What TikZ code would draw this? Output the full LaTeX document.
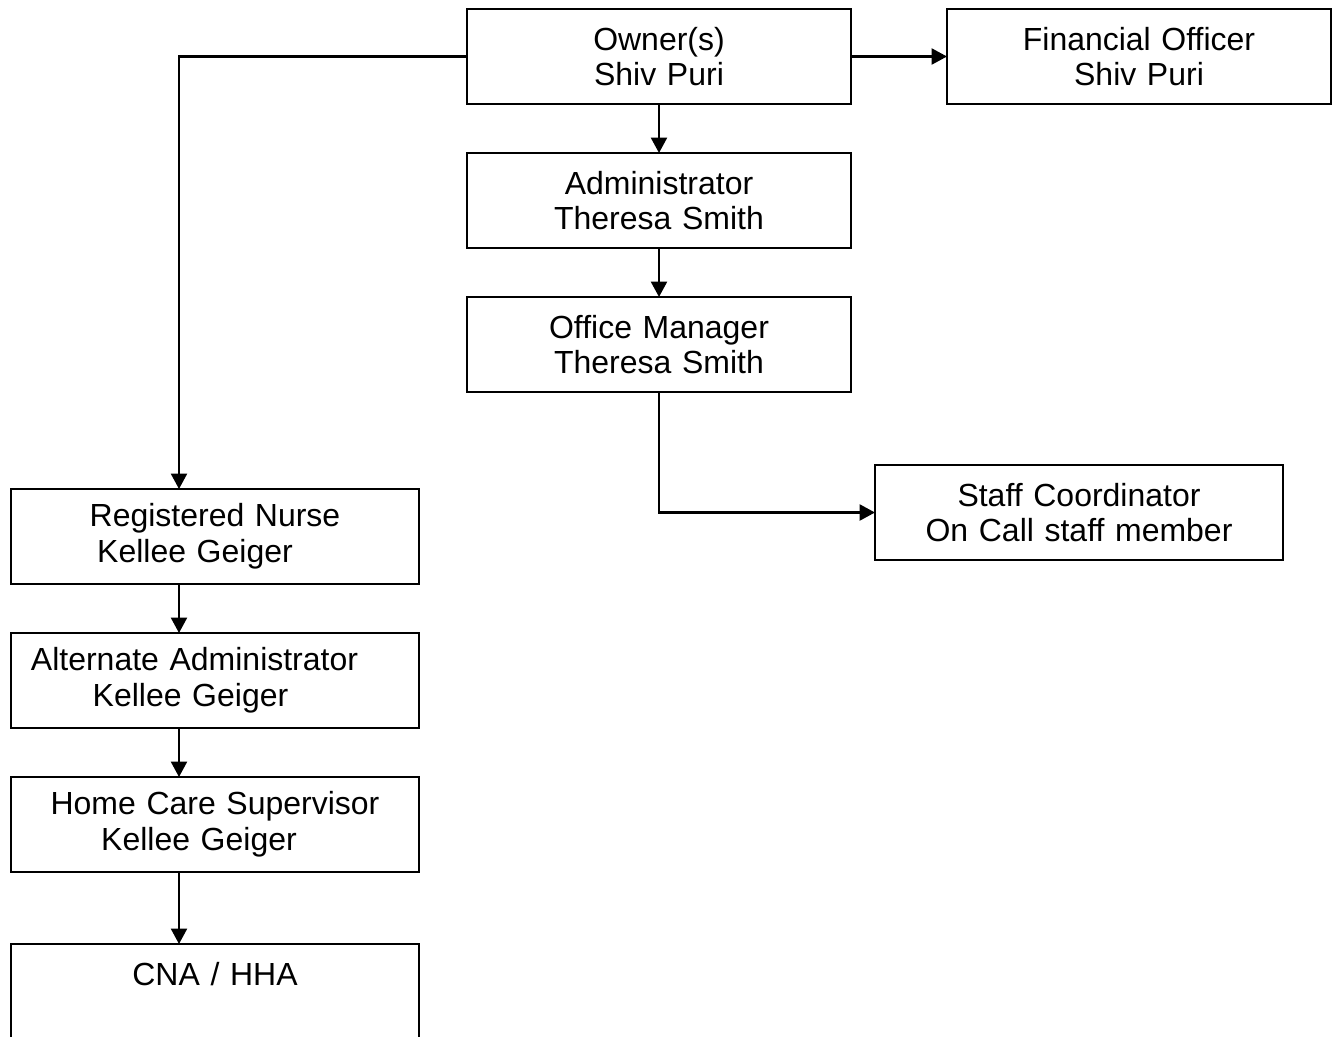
\documentclass[tikz,border=0pt]{standalone}
\usepackage{fontspec}
\setmainfont{Liberation Sans}
\usetikzlibrary{arrows.meta, positioning}

\begin{document}
\begin{tikzpicture}[
    orgbox/.style={
        draw,
        line width=1.1pt,
        minimum height=1.9cm,
        inner sep=0pt,
        outer sep=0pt,
        text width=7.68cm,
        align=center,
        font=\fontsize{18.2}{20.4}\selectfont,
    },
    widebox/.style={
        orgbox,
        text width=8.16cm,
    },
    link/.style={
        line width=1.5pt,
        -{Triangle[length=3.1mm, width=3.2mm]},
    }
]
    \useasboundingbox (0,0) rectangle (26.76,-20.72);

    % Office side
    \node[orgbox] (owner) at (13.18,-1.13) {Owner(s)\\Shiv Puri};
    \node[orgbox, right=1.92cm of owner] (finance) {Financial Officer\\Shiv Puri};
    \node[orgbox, below=0.98cm of owner] (admin) {Administrator\\Theresa Smith};
    \node[orgbox, below=0.98cm of admin] (office) {Office Manager\\Theresa Smith};
    \node[widebox] (staff) at (21.58,-10.25) {Staff Coordinator\\On Call staff member};

    % Care side
    \node[widebox] (nurse) at (4.30,-10.73) {Registered Nurse\\\hspace*{-0.8cm}Kellee Geiger};
    \node[widebox, below=0.98cm of nurse] (altadmin) {\hspace*{-0.82cm}Alternate Administrator\\\hspace*{-0.98cm}Kellee Geiger};
    \node[widebox, below=0.98cm of altadmin] (supervisor) {Home Care Supervisor\\\hspace*{-0.64cm}Kellee Geiger};
    \node[widebox, below=1.44cm of supervisor] (cna) {CNA / HHA\\ \mbox{}};

    % Links
    \draw[link] (owner) -- (finance);
    \draw[link] (owner) -- (admin);
    \draw[link] (admin) -- (office);
    \draw[link] (office.south) |- (staff.west);
    \draw[link] (owner.west) -| ([xshift=-0.72cm]nurse.north);
    \draw[link] ([xshift=-0.72cm]nurse.south) -- ([xshift=-0.72cm]altadmin.north);
    \draw[link] ([xshift=-0.72cm]altadmin.south) -- ([xshift=-0.72cm]supervisor.north);
    \draw[link] ([xshift=-0.72cm]supervisor.south) -- ([xshift=-0.72cm]cna.north);
\end{tikzpicture}
\end{document}
